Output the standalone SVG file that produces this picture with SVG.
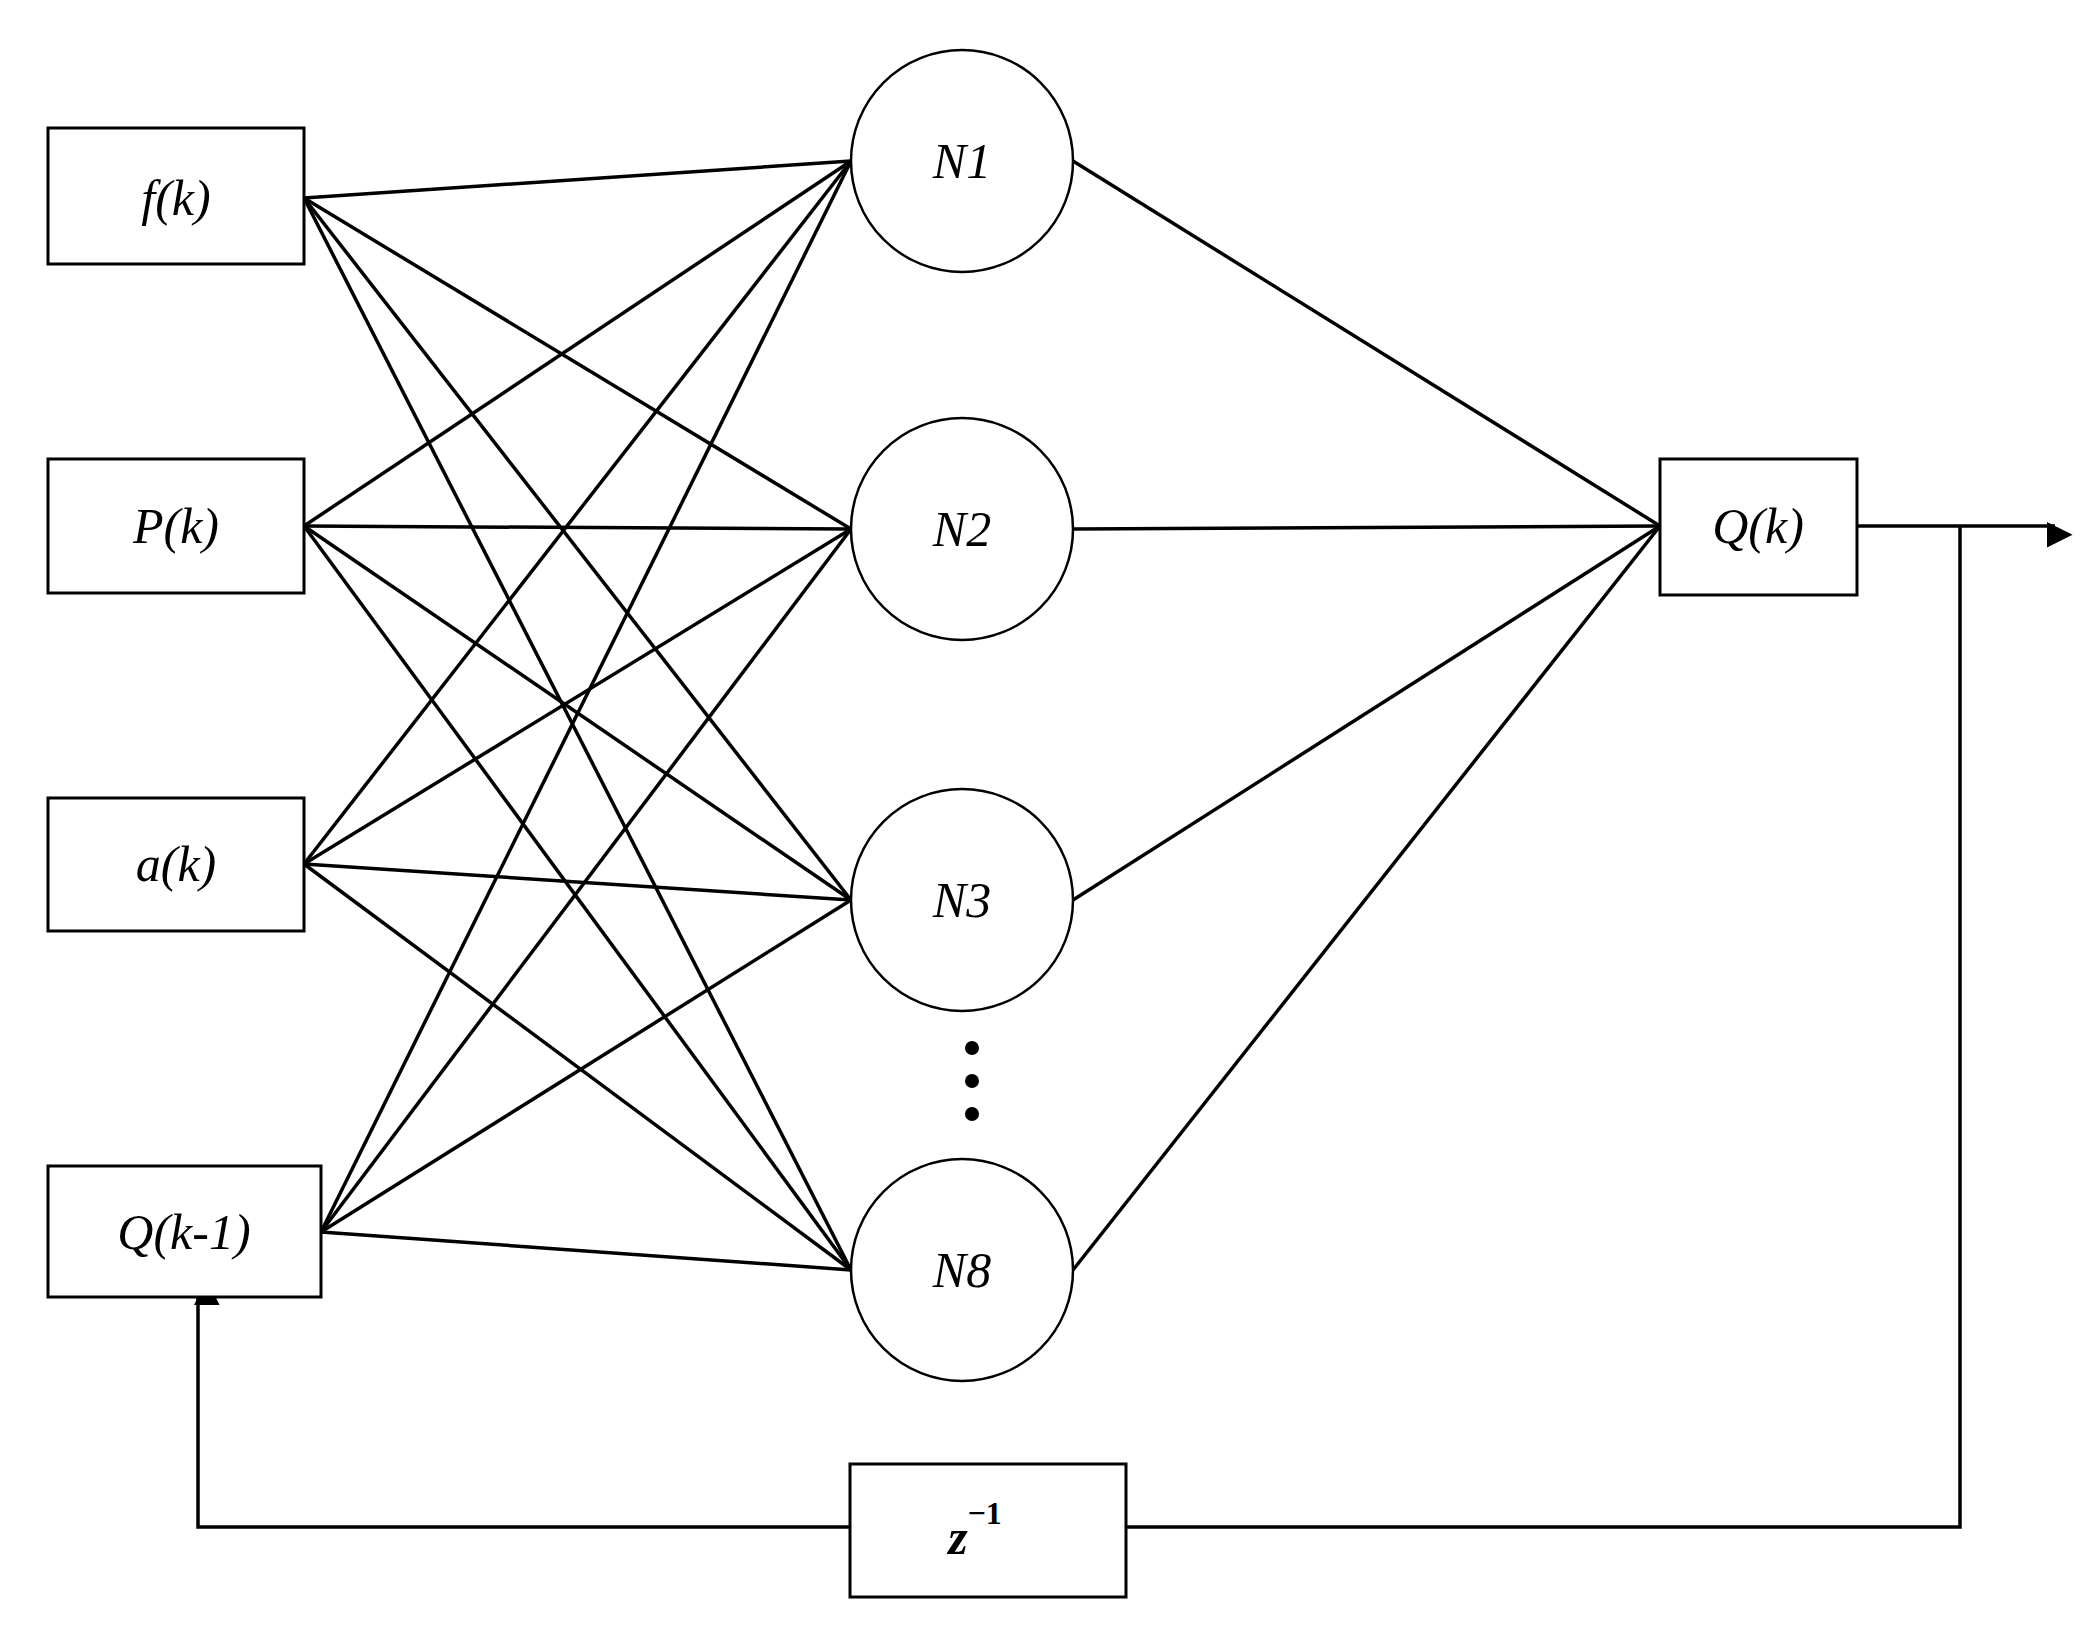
<svg xmlns="http://www.w3.org/2000/svg" width="2089" height="1626" viewBox="0 0 2089 1626">
<style>
.box{fill:#fff;stroke:#000;stroke-width:3}
.neu{fill:#fff;stroke:#000;stroke-width:2.5}
.t{font-family:"Liberation Serif","DejaVu Serif",serif;font-style:italic;font-size:50px;text-anchor:middle;dominant-baseline:central}
.c line,.c path{stroke:#000;stroke-width:3.5;fill:none}
</style>
<defs>
<marker id="ah" viewBox="0 0 10 10" refX="10" refY="5" markerWidth="8" markerHeight="8" markerUnits="userSpaceOnUse" orient="auto" style="overflow:visible"><path d="M0,0 L10,5 L0,10 Z" fill="#000" transform="scale(3.2)"/></marker>
</defs>
<g class="c" id="connectors">
<line x1="304" y1="198" x2="851" y2="161"/><line x1="304" y1="198" x2="851" y2="529"/><line x1="304" y1="198" x2="851" y2="900"/><line x1="304" y1="198" x2="851" y2="1270"/>
<line x1="304" y1="526" x2="851" y2="161"/><line x1="304" y1="526" x2="851" y2="529"/><line x1="304" y1="526" x2="851" y2="900"/><line x1="304" y1="526" x2="851" y2="1270"/>
<line x1="304" y1="864" x2="851" y2="161"/><line x1="304" y1="864" x2="851" y2="529"/><line x1="304" y1="864" x2="851" y2="900"/><line x1="304" y1="864" x2="851" y2="1270"/>
<line x1="321" y1="1232" x2="851" y2="161"/><line x1="321" y1="1232" x2="851" y2="529"/><line x1="321" y1="1232" x2="851" y2="900"/><line x1="321" y1="1232" x2="851" y2="1270"/>
<line x1="1073" y1="161" x2="1660" y2="526"/><line x1="1073" y1="529" x2="1660" y2="526"/><line x1="1073" y1="900" x2="1660" y2="526"/><line x1="1073" y1="1270" x2="1660" y2="526"/>
<line x1="1857" y1="526" x2="2055" y2="526" marker-end="url(#ah)"/>
<path d="M1960,526 V1527 H1126"/>
<path d="M850,1527 H198 V1297" marker-end="url(#ah)"/>
</g>
<g id="f"><rect class="box" x="48" y="128" width="256" height="136"/><text class="t" x="176" y="198">f(k)</text></g>
<g id="P"><rect class="box" x="48" y="459" width="256" height="134"/><text class="t" x="176" y="526">P(k)</text></g>
<g id="a"><rect class="box" x="48" y="798" width="256" height="133"/><text class="t" x="176" y="864">a(k)</text></g>
<g id="Qk1"><rect class="box" x="48" y="1166" width="273" height="131"/><text class="t" x="184" y="1232">Q(k-1)</text></g>
<g id="N1"><circle class="neu" cx="962" cy="161" r="111"/><text class="t" x="962" y="161">N1</text></g>
<g id="N2"><circle class="neu" cx="962" cy="529" r="111"/><text class="t" x="962" y="529">N2</text></g>
<g id="N3"><circle class="neu" cx="962" cy="900" r="111"/><text class="t" x="962" y="900">N3</text></g>
<g id="N8"><circle class="neu" cx="962" cy="1270" r="111"/><text class="t" x="962" y="1270">N8</text></g>
<g id="dots"><circle cx="972" cy="1048" r="7"/><circle cx="972" cy="1081" r="7"/><circle cx="972" cy="1114" r="7"/></g>
<g id="Qk"><rect class="box" x="1660" y="459" width="197" height="136"/><text class="t" x="1758" y="526">Q(k)</text></g>
<g id="z"><rect class="box" x="850" y="1464" width="276" height="133"/><text class="t" x="975" y="1537" style="font-weight:bold">z<tspan font-size="32" dy="-24" font-style="normal">−1</tspan></text></g>
</svg>
